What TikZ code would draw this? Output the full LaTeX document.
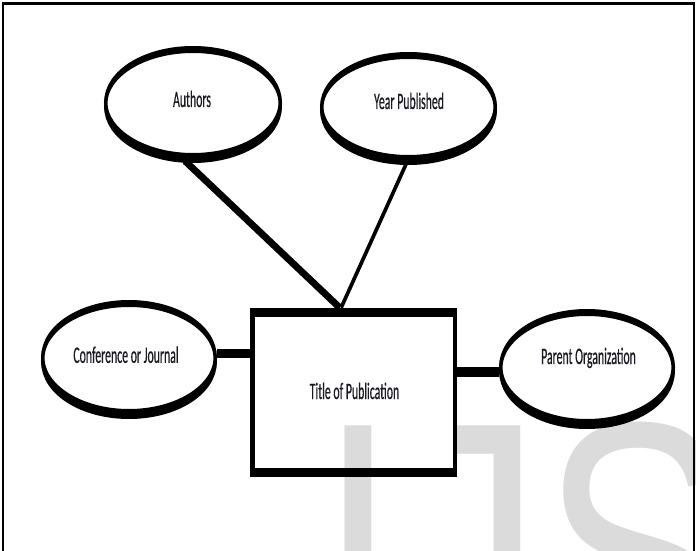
\documentclass[tikz,border=0pt]{standalone}
\usepackage{fontspec}
\usetikzlibrary{shapes.geometric}
\newfontfamily\lab[FakeBold=0.6]{Carlito}
\newfontfamily\wmfont{Liberation Sans}
\definecolor{wmgray}{RGB}{219,219,219}
\definecolor{txt}{RGB}{25,25,35}
\tikzset{
  ent/.style={ellipse, draw=black, fill=white, line width=3.5pt, inner sep=0pt,
    preaction={draw=black, line width=3.5pt, transform canvas={yshift=-1.5pt}}},
  rel/.style={rectangle, draw=black, line width=4.5pt, inner sep=0pt},
  lbl/.style={font=\lab\fontsize{11.8}{13}\selectfont, text=txt, inner sep=0pt, anchor=base},
  conn/.style={draw=black, line cap=butt},
  frame/.style={draw=black, line width=2.5pt},
}
\begin{document}
\begin{tikzpicture}[x=1pt,y=1pt]
\useasboundingbox (0,0) rectangle (696,550);
\clip (0,0) rectangle (696,550);
% watermark
\node[anchor=base west, inner sep=0pt, text=wmgray] (wmk) at (318.2,-132)
  {\scalebox{1}[1.3]{\wmfont\fontsize{287}{287}\selectfont IJS}};
% frame
\draw[frame] (3,-2) -- (3,546.5) -- (694,546.5) -- (694,-2);
\begin{scope}[transform canvas={yscale=2}]
  \node[ent, minimum width=174.5pt, minimum height=53.5pt] (auth) at (193,223.5) {};
  \node[ent, minimum width=173.5pt, minimum height=51.5pt] (year) at (408.5,221.5) {};
  \node[ent, minimum width=172.5pt, minimum height=54.5pt] (conf) at (129,96) {};
  \node[ent, minimum width=172.5pt, minimum height=55pt] (par) at (587,91.25) {};
  \node[rel, minimum width=202.5pt, minimum height=80pt] (rect) at (353.5,78.75) {};
  \draw[conn, line width=4.3pt] ([xshift=-9pt]auth.south) -- ([xshift=-13.5pt]rect.north);
  \draw[conn, line width=3pt] ([xshift=-1.5pt]year.south) -- ([xshift=-12.5pt]rect.north);
  \coordinate (c1) at ([yshift=2.5pt]conf.east);
  \draw[conn, line width=4.5pt] (c1) -- (c1 -| rect.west);
  \coordinate (c2) at ([yshift=-2.25pt]par.west);
  \draw[conn, line width=5pt] (c2 -| rect.east) -- (c2);
  \node[lbl] (tauth) at (192,221.5) {Authors};
  \node[lbl] (tyear) at (409,220.5) {Year Published};
  \node[lbl] (tconf) at (126,93.6) {Conference or Journal};
  \node[lbl] (ttitle) at (354.5,75.5) {Title of Publication};
  \node[lbl] (tpar) at (588.5,93) {Parent Organization};
\end{scope}
\end{tikzpicture}
\end{document}
